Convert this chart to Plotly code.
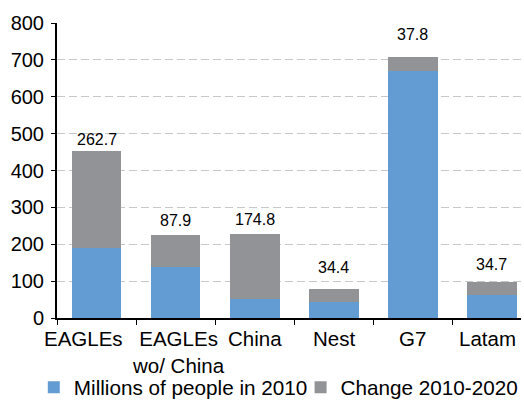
import plotly.graph_objects as go

# Regions and population figures (millions)
regions = ["EAGLEs", "EAGLEs wo/ China", "China", "Nest", "G7", "Latam"]
category_labels = ["EAGLEs", "EAGLEs<br>wo/ China", "China", "Nest", "G7", "Latam"]
base_2010 = [190.0, 137.0, 52.0, 44.0, 670.0, 62.0]
change_2010_2020 = [262.7, 87.9, 174.8, 34.4, 37.8, 34.7]
y_ticks = [0, 100, 200, 300, 400, 500, 600, 700, 800]

# Extra lift (px) for each value label above its bar
label_lift = [1, 4, 4, 11, 12, 7]
# Horizontal nudge (px) for category labels so neighbours don't collide
label_nudge = [-13, 3, 0, 0, 0, -4]

BLUE = "#639bd3"
GRAY = "#929396"
FONT = "Liberation Sans, Arial, sans-serif"

fig = go.Figure()
fig.add_trace(go.Bar(
    x=regions, y=base_2010, name="Millions of people in 2010",
    marker=dict(color=BLUE, line=dict(width=0)), width=0.63,
    legend="legend",
))
fig.add_trace(go.Bar(
    x=regions, y=change_2010_2020, name="Change 2010-2020",
    marker=dict(color=GRAY, line=dict(width=0)), width=0.63,
    legend="legend2",
))

# Change values written above each stacked bar
for cat, b, c, lift in zip(regions, base_2010, change_2010_2020, label_lift):
    fig.add_annotation(
        x=cat, y=b + c, text=f"{c:.1f}", showarrow=False,
        yanchor="bottom", yshift=lift,
        font=dict(family=FONT, size=16, color="#000000"),
    )

# Category names under the axis
for cat, lab, dx in zip(regions, category_labels, label_nudge):
    fig.add_annotation(
        x=cat, y=0, text=lab, showarrow=False,
        yanchor="top", yshift=-7, xshift=dx, align="center",
        font=dict(family=FONT, size=20.5, color="#000000"),
    )

legend_style = dict(
    orientation="h", yanchor="middle", y=-0.235,
    font=dict(family=FONT, size=20.7, color="#000000"),
    itemwidth=30, bgcolor="rgba(0,0,0,0)", borderwidth=0,
)

fig.update_layout(
    barmode="stack",
    width=524, height=409,
    margin=dict(l=57, r=3, t=23, b=91, autoexpand=False),
    paper_bgcolor="white", plot_bgcolor="white",
    font=dict(family=FONT, size=20, color="#000000"),
    showlegend=True,
    legend=dict(x=-0.050, xanchor="left", **legend_style),
    legend2=dict(x=0.525, xanchor="left", **legend_style),
)

fig.update_xaxes(
    type="category", range=[-0.5, 5.37],
    showticklabels=False, automargin=False,
    showline=True, linecolor="#000000", linewidth=2,
    ticks="outside", tickson="boundaries", ticklen=5, tickcolor="#000000", tickwidth=1,
    showgrid=False,
)
fig.update_yaxes(
    range=[0, 800], tickvals=y_ticks, automargin=False,
    showline=True, linecolor="#000000", linewidth=2,
    ticks="outside", ticklen=4, tickcolor="#000000", tickwidth=1,
    ticklabelstandoff=3,
    showgrid=True, gridcolor="#c8c8c8", gridwidth=1, griddash="8px,4px",
    zeroline=False, tickfont=dict(family=FONT, size=20, color="#000000"),
)

fig.write_html("out.html")
